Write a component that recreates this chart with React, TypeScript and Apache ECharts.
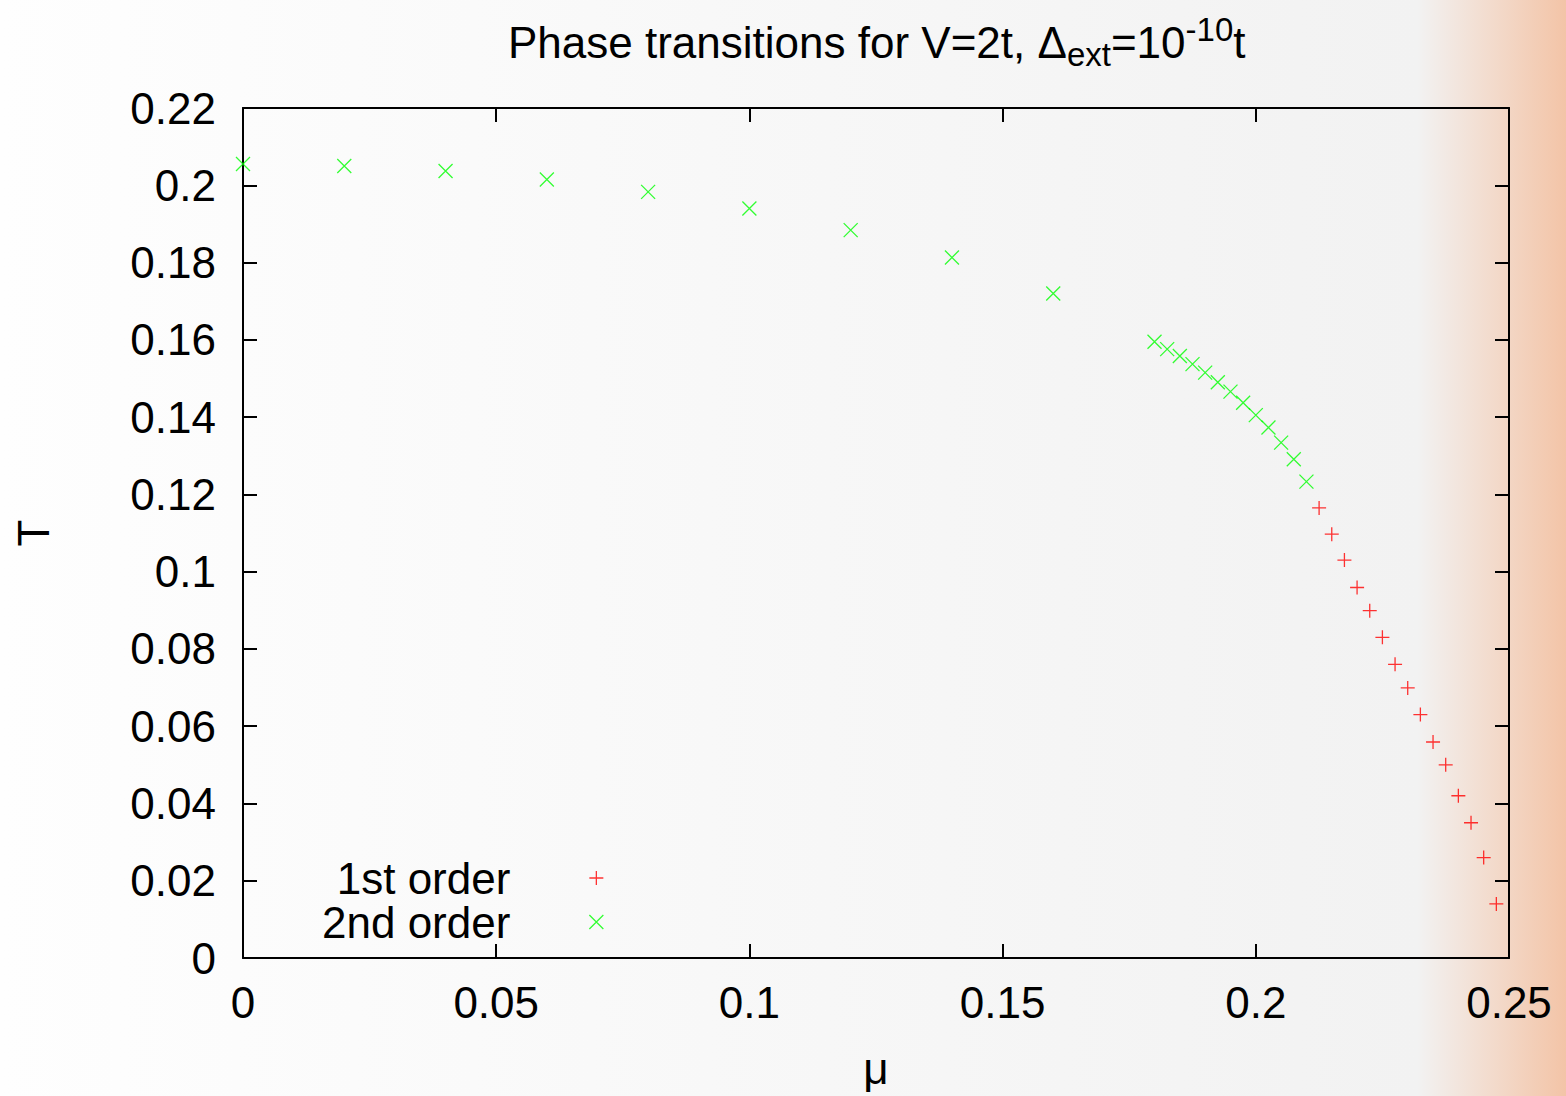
import React, { useEffect, useRef } from "react";
import * as echarts from "echarts";

const mu1st = [0.2125, 0.215, 0.2175, 0.22, 0.2225, 0.225, 0.2275, 0.23, 0.2325, 0.235, 0.2375, 0.24, 0.2425, 0.245, 0.2475];
const T1st = [0.1165, 0.1097, 0.103, 0.0959, 0.0899, 0.083, 0.076, 0.0699, 0.063, 0.0559, 0.05, 0.042, 0.035, 0.026, 0.014];

const mu2nd = [0, 0.02, 0.04, 0.06, 0.08, 0.1, 0.12, 0.14, 0.16, 0.18, 0.1825, 0.185, 0.1875, 0.19, 0.1925, 0.195, 0.1975, 0.2, 0.2025, 0.205, 0.2075, 0.21];
const T2nd = [0.2055, 0.205, 0.2037, 0.2015, 0.1983, 0.194, 0.1884, 0.1813, 0.172, 0.1595, 0.1576, 0.1558, 0.1537, 0.1515, 0.149, 0.1466, 0.1437, 0.1405, 0.1373, 0.1334, 0.1291, 0.1233];

const seriesNames = ["1st order", "2nd order"];
const xName = "μ";
const yName = "T";

const FONT = "Liberation Sans";
const PLUS = "path://M0,7L14,7M7,0L7,14";
const CROSS = "path://M0,0L14,14M14,0L0,14";

export default function App() {
  const ref = useRef<HTMLDivElement>(null);
  useEffect(() => {
    if (!ref.current) return;
    const chart = echarts.init(ref.current, null, { renderer: "svg" });
    const axisCommon = {
      axisLine: { show: true, onZero: false, lineStyle: { color: "#000", width: 2 } },
      axisTick: { show: true, inside: true, length: 14, lineStyle: { color: "#000", width: 2 } },
      splitLine: { show: false },
    };
    const legendText = { fontFamily: FONT, fontSize: 44, lineHeight: 42, color: "#000", padding: [0, 74, 0, 0] };
    chart.setOption({
      animation: false,
      backgroundColor: {
        type: "linear", x: 0, y: 0, x2: 1, y2: 0,
        colorStops: [
          { offset: 0, color: "#fefefe" },
          { offset: 0.905, color: "#f2f2f2" },
          { offset: 1, color: "#f3c4a7" },
        ],
      },
      title: {
        text: "{a|Phase transitions for V=2t, Δ}{b|ext}{a|=10}{c|-10}{a|t}",
        left: 503,
        top: 8,
        textStyle: {
          fontWeight: "normal",
          rich: {
            a: { fontFamily: FONT, fontWeight: "normal", fontSize: 44, lineHeight: 58, color: "#000" },
            b: { fontFamily: FONT, fontWeight: "normal", fontSize: 33, lineHeight: 40, verticalAlign: "bottom", color: "#000" },
            c: { fontFamily: FONT, fontWeight: "normal", fontSize: 33, lineHeight: 40, verticalAlign: "top", color: "#000" },
          },
        },
      },
      grid: { left: 243, right: 57, top: 108, bottom: 138, containLabel: false, outerBoundsMode: "none" },
      legend: [
        {
          data: [{ name: seriesNames[0], icon: PLUS, itemStyle: { color: "transparent", borderColor: "#ff0000", borderWidth: 1.3 } }],
          orient: "vertical", align: "right", right: 957, top: 851,
          itemWidth: 14, itemHeight: 14,
          textStyle: legendText,
        },
        {
          data: [{ name: seriesNames[1], icon: CROSS, itemStyle: { color: "transparent", borderColor: "#00ff00", borderWidth: 1.3 } }],
          orient: "vertical", align: "right", right: 957, top: 895,
          itemWidth: 14, itemHeight: 14,
          textStyle: legendText,
        },
      ],
      xAxis: [
        {
          type: "value", min: 0, max: 0.25, interval: 0.05, position: "bottom",
          name: xName, nameLocation: "middle", nameGap: 88,
          nameTextStyle: { fontFamily: FONT, fontSize: 44, color: "#000" },
          axisLabel: { fontFamily: FONT, fontSize: 44, color: "#000", margin: 22 },
          ...axisCommon,
        },
        {
          type: "value", min: 0, max: 0.25, interval: 0.05, position: "top",
          axisLabel: { show: false },
          ...axisCommon,
        },
      ],
      yAxis: [
        {
          type: "value", min: 0, max: 0.22, interval: 0.02, position: "left",
          name: yName, nameLocation: "middle", nameGap: 188, nameRotate: 90,
          nameTextStyle: { fontFamily: FONT, fontSize: 44, color: "#000" },
          axisLabel: { fontFamily: FONT, fontSize: 44, color: "#000", margin: 27 },
          ...axisCommon,
        },
        {
          type: "value", min: 0, max: 0.22, interval: 0.02, position: "right",
          axisLabel: { show: false },
          ...axisCommon,
        },
      ],
      series: [
        {
          name: seriesNames[0], type: "scatter", xAxisIndex: 0, yAxisIndex: 0,
          data: mu1st.map((m, i) => [m, T1st[i]]),
          symbol: PLUS, symbolSize: 14, clip: false,
          itemStyle: { color: "transparent", borderColor: "#ff0000", borderWidth: 1.3 },
        },
        {
          name: seriesNames[1], type: "scatter", xAxisIndex: 0, yAxisIndex: 0,
          data: mu2nd.map((m, i) => [m, T2nd[i]]),
          symbol: CROSS, symbolSize: 14, clip: false,
          itemStyle: { color: "transparent", borderColor: "#00ff00", borderWidth: 1.3 },
        },
      ],
    });
    return () => chart.dispose();
  }, []);
  return <div ref={ref} style={{ position: "fixed", left: 0, top: 0, width: 1566, height: 1096 }} />;
}
